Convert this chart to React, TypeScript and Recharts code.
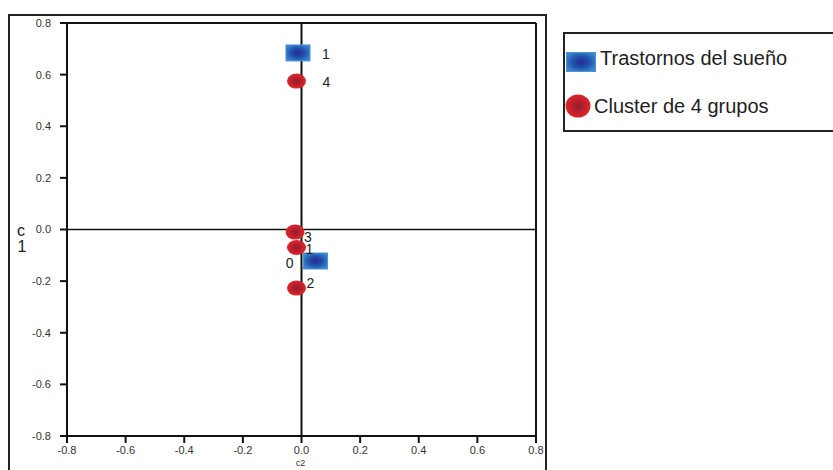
import React from 'react';
import { ScatterChart, Scatter, XAxis, YAxis, ReferenceLine } from 'recharts';

// ---- data ----
const sleepX = [-0.012, 0.048];
const sleepY = [0.684, -0.122];
const sleepLabels = ['1', '0'];

const clusterX = [-0.017, -0.017, -0.022, -0.017];
const clusterY = [-0.07, -0.227, -0.01, 0.575];
const clusterLabels = ['1', '2', '3', '4'];

const axisTicks = [-0.8, -0.6, -0.4, -0.2, 0, 0.2, 0.4, 0.6, 0.8];
const seriesNames = ['Trastornos del sueño', 'Cluster de 4 grupos'];
const xAxisName = 'c2';
const yAxisName = ['c', '1'];

// label placement (dx, dy, anchor) keyed by series + label
const labelPlacement: Record<string, [number, number, 'start' | 'end']> = {
  's-1': [24, 1, 'start'],
  's-0': [-22, 2, 'end'],
  'c-4': [26, 1, 'start'],
  'c-3': [9, 5, 'start'],
  'c-1': [9, 1, 'start'],
  'c-2': [10, -5, 'start'],
};

const sleepData = sleepX.map((x, i) => ({ x, y: sleepY[i], label: sleepLabels[i] }));
const clusterData = clusterX.map((x, i) => ({ x, y: clusterY[i], label: clusterLabels[i] }));

const FONT = '"Liberation Sans", Arial, sans-serif';

const fmt = (v: number) => (Math.abs(v) < 1e-9 ? '0.0' : v.toFixed(1));

const PointText = ({ cx, cy, k, text }: any) => {
  const p = labelPlacement[k] || [10, 0, 'start'];
  return (
    <text
      x={cx + p[0]}
      y={cy + p[1]}
      textAnchor={p[2]}
      dominantBaseline="central"
      fontSize={14}
      fontFamily={FONT}
      fill="#222"
    >
      {text}
    </text>
  );
};

const SquareShape = (props: any) => {
  const { cx, cy, payload } = props;
  return (
    <g>
      <rect x={cx - 12} y={cy - 8} width={24} height={16} fill="url(#blueGrad)" stroke="#4a93d4" strokeWidth={1} />
      <PointText cx={cx} cy={cy} k={'s-' + payload.label} text={payload.label} />
    </g>
  );
};

const CircleShape = (props: any) => {
  const { cx, cy, payload } = props;
  return (
    <g>
      <ellipse cx={cx} cy={cy} rx={9.5} ry={7.5} fill="url(#redGrad)" />
      <PointText cx={cx} cy={cy} k={'c-' + payload.label} text={payload.label} />
    </g>
  );
};

const XLabel = ({ viewBox }: any) => (
  <text
    x={viewBox.x + viewBox.width / 2 - 1}
    y={viewBox.y + 30}
    textAnchor="middle"
    fontSize={9}
    fontFamily={FONT}
    fill="#333"
  >
    {xAxisName}
  </text>
);

const YLabel = ({ viewBox }: any) => {
  const cy = viewBox.y + viewBox.height / 2;
  return (
    <g>
      <text x={21} y={cy + 1} textAnchor="middle" dominantBaseline="central" fontSize={16} fontFamily={FONT} fill="#222">
        {yAxisName[0]}
      </text>
      <text x={22} y={cy + 17} textAnchor="middle" dominantBaseline="central" fontSize={16} fontFamily={FONT} fill="#222">
        {yAxisName[1]}
      </text>
    </g>
  );
};

export default function App() {
  return (
    <div style={{ position: 'absolute', left: 0, top: 0, width: 833, height: 470, overflow: 'hidden', background: '#fff' }}>
      <svg width={0} height={0} style={{ position: 'absolute' }}>
        <defs>
          <radialGradient id="blueGrad" cx="50%" cy="50%" r="60%">
            <stop offset="0%" stopColor="#2a2496" />
            <stop offset="45%" stopColor="#1f4fa8" />
            <stop offset="100%" stopColor="#3b8ad0" />
          </radialGradient>
          <radialGradient id="redGrad" cx="50%" cy="50%" r="55%">
            <stop offset="0%" stopColor="#8e1f2e" />
            <stop offset="55%" stopColor="#c41f2a" />
            <stop offset="100%" stopColor="#e2292b" />
          </radialGradient>
        </defs>
      </svg>
      {/* outer frame */}
      <div
        style={{
          position: 'absolute',
          left: 8,
          top: 14,
          width: 539,
          height: 480,
          border: '2px solid #222',
          boxSizing: 'border-box',
        }}
      />
      {/* legend */}
      <div
        style={{
          position: 'absolute',
          left: 563,
          top: 32,
          width: 300,
          height: 100,
          border: '2px solid #222',
          boxSizing: 'border-box',
          fontFamily: FONT,
          fontSize: 20,
          color: '#222',
        }}
      >
        <div style={{ position: 'absolute', left: 1, top: 18, display: 'flex', alignItems: 'center' }}>
          <svg width={30} height={20}>
            <rect x={0.5} y={0.5} width={29} height={19} fill="url(#blueGrad)" stroke="#4a93d4" />
          </svg>
          <span style={{ marginLeft: 4, lineHeight: '20px', position: 'relative', top: -4 }}>{seriesNames[0]}</span>
        </div>
        <div style={{ position: 'absolute', left: 0, top: 60, display: 'flex', alignItems: 'center' }}>
          <svg width={27} height={24}>
            <ellipse cx={13} cy={12} rx={12.5} ry={11.5} fill="url(#redGrad)" />
          </svg>
          <span style={{ marginLeft: 2, lineHeight: '20px' }}>{seriesNames[1]}</span>
        </div>
      </div>
      <div style={{ position: 'absolute', left: 0, top: 0 }}>
        <ScatterChart width={833} height={470} margin={{ top: 23, right: 297, bottom: 4, left: 17 }}>
          <XAxis
            type="number"
            dataKey="x"
            domain={[-0.8, 0.8]}
            ticks={axisTicks}
            tickFormatter={fmt}
            allowDataOverflow
            height={30}
            tickSize={7}
            tickMargin={3}
            axisLine={{ stroke: '#111', strokeWidth: 2 }}
            tickLine={{ stroke: '#111', strokeWidth: 2 }}
            tick={{ fontSize: 11, fontFamily: FONT, fill: '#333' }}
            label={<XLabel />}
          />
          <YAxis
            type="number"
            dataKey="y"
            domain={[-0.8, 0.8]}
            ticks={axisTicks}
            tickFormatter={fmt}
            allowDataOverflow
            width={50}
            tickSize={7}
            tickMargin={9}
            axisLine={{ stroke: '#111', strokeWidth: 2 }}
            tickLine={{ stroke: '#111', strokeWidth: 2 }}
            tick={{ fontSize: 11, fontFamily: FONT, fill: '#333' }}
            label={<YLabel />}
          />
          <ReferenceLine y={0.8} stroke="#111" strokeWidth={2} />
          <ReferenceLine x={0.8} stroke="#111" strokeWidth={2} />
          <ReferenceLine y={0} stroke="#111" strokeWidth={1.5} />
          <ReferenceLine x={0} stroke="#111" strokeWidth={2} />
          <Scatter name={seriesNames[0]} data={sleepData} shape={<SquareShape />} isAnimationActive={false} />
          <Scatter name={seriesNames[1]} data={clusterData} shape={<CircleShape />} isAnimationActive={false} />
        </ScatterChart>
      </div>
    </div>
  );
}
